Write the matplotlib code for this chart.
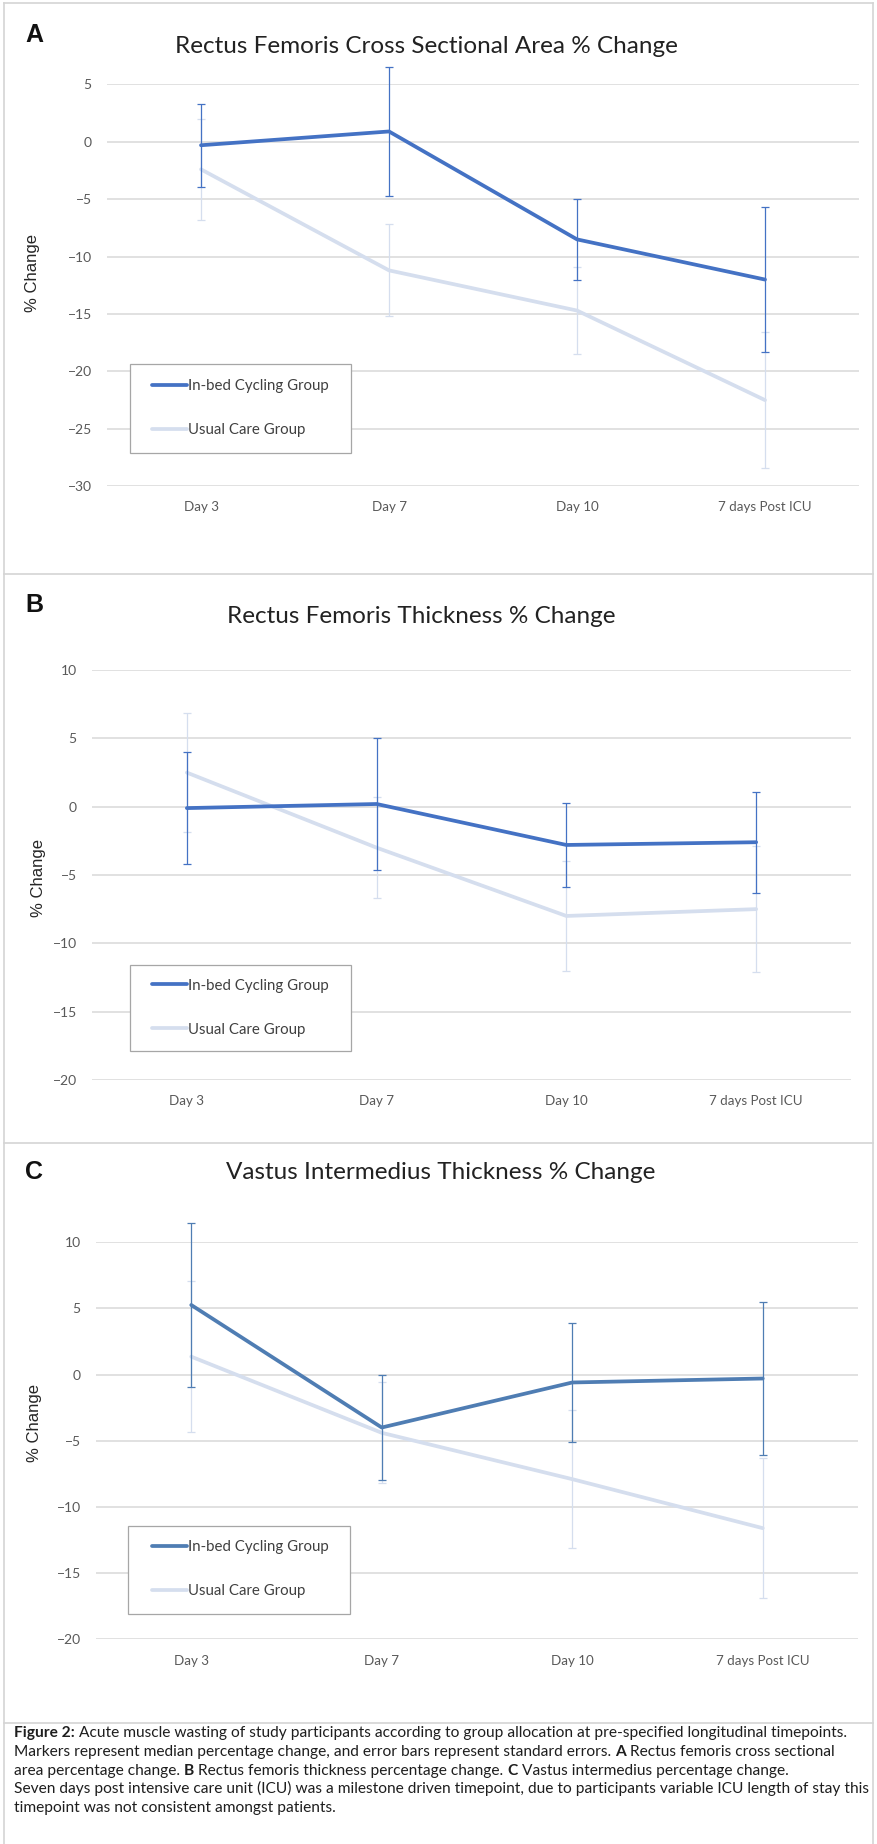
import matplotlib
matplotlib.use("Agg")
import matplotlib.pyplot as plt
from matplotlib.lines import Line2D
from matplotlib.patches import Rectangle
import numpy as np

W, H, DPI = 877, 1844, 100

timepoints = ["Day 3", "Day 7", "Day 10", "7 days Post ICU"]
group_names = ["In-bed Cycling Group", "Usual Care Group"]

# A: rectus femoris cross sectional area, median % change and standard error
rf_csa_cycling = [-0.3, 0.9, -8.5, -12.0]
rf_csa_cycling_se = [3.6, 5.6, 3.5, 6.3]
rf_csa_usual = [-2.4, -11.2, -14.7, -22.5]
rf_csa_usual_se = [4.4, 4.0, 3.8, 5.9]

# B: rectus femoris thickness
rf_thk_cycling = [-0.1, 0.2, -2.8, -2.6]
rf_thk_cycling_se = [4.1, 4.8, 3.1, 3.7]
rf_thk_usual = [2.5, -3.0, -8.0, -7.5]
rf_thk_usual_se = [4.35, 3.7, 4.0, 4.6]

# C: vastus intermedius thickness
vi_thk_cycling = [5.25, -4.0, -0.6, -0.3]
vi_thk_cycling_se = [6.2, 4.0, 4.5, 5.8]
vi_thk_usual = [1.35, -4.4, -7.9, -11.6]
vi_thk_usual_se = [5.7, 3.8, 5.2, 5.3]

panel_letters = ["A", "B", "C"]
panel_titles = [
    "Rectus Femoris Cross Sectional Area % Change",
    "Rectus Femoris Thickness % Change",
    "Vastus Intermedius Thickness % Change",
]

CAL = ["Lato", "DejaVu Sans"]
ARIAL = ["Liberation Sans", "DejaVu Sans"]
GRID = "#d9d9d9"
FRAME = "#d4d4d4"
LIGHT = "#d5deee"


def fx(x):
    return x / W


def fy(y):
    return 1 - y / H


fig = plt.figure(figsize=(W / DPI, H / DPI), dpi=DPI)
fig.patch.set_facecolor("white")

# outer frame and panel separators
for (x0, y0, x1, y1) in [(3.5, 3.5, 3.5, H), (872.5, 3.5, 872.5, H), (3.5, 3.5, 872.5, 3.5),
                         (3.5, 573.5, 872.5, 573.5), (3.5, 1142.5, 872.5, 1142.5),
                         (3.5, 1722.5, 872.5, 1722.5)]:
    fig.add_artist(Line2D([fx(x0), fx(x1)], [fy(y0), fy(y1)], color=FRAME, lw=1.2,
                          transform=fig.transFigure))

panels = [
    dict(data=(rf_csa_cycling, rf_csa_cycling_se, rf_csa_usual, rf_csa_usual_se),
         box=(107, 84.4, 859, 486.2), ylim=(-30, 5), dark="#4472c4",
         letter_xy=(34, 35), title_xy=(426, 46.5), ylab_xy=(32, 273),
         legend_box=(130, 364, 351, 453), legend_rows=(386, 430)),
    dict(data=(rf_thk_cycling, rf_thk_cycling_se, rf_thk_usual, rf_thk_usual_se),
         box=(92, 670.2, 851, 1079.8), ylim=(-20, 10), dark="#4472c4",
         letter_xy=(34, 605), title_xy=(421, 616), ylab_xy=(38, 878),
         legend_box=(130, 965, 351, 1051), legend_rows=(986.5, 1029)),
    dict(data=(vi_thk_cycling, vi_thk_cycling_se, vi_thk_usual, vi_thk_usual_se),
         box=(96, 1242.1, 858, 1639.4), ylim=(-20, 10), dark="#4f7db3",
         letter_xy=(34, 1172), title_xy=(441, 1172), ylab_xy=(34, 1423),
         legend_box=(128, 1525.5, 350, 1614), legend_rows=(1547, 1590.6)),
]

x = np.arange(len(timepoints))

for i, p in enumerate(panels):
    l, t, r, b = p["box"]
    ax = fig.add_axes([fx(l), fy(b), (r - l) / W, (b - t) / H])
    cyc, cyc_se, usu, usu_se = p["data"]

    handles = []
    for vals, se, col, z in [(usu, usu_se, LIGHT, 3), (cyc, cyc_se, p["dark"], 4)]:
        cont = ax.errorbar(x, vals, yerr=se, color=col, lw=2.7, elinewidth=0.9,
                           capsize=3, capthick=0.9, zorder=z)
        line, caps, bars = cont.lines
        line.set_solid_capstyle("round")
        for art in (line,) + tuple(caps) + tuple(bars):
            art.set_clip_on(False)
        handles.append(line)
    handles = handles[::-1]

    ax.set_xlim(-0.5, len(timepoints) - 0.5)
    ax.set_ylim(*p["ylim"])
    ax.set_yticks(np.arange(p["ylim"][0], p["ylim"][1] + 1, 5))
    ax.set_xticks(x)
    ax.set_xticklabels(timepoints)
    for s in ax.spines.values():
        s.set_visible(False)
    ax.yaxis.grid(True, color=GRID, lw=1.1)
    ax.set_axisbelow(True)
    ax.tick_params(length=0, labelsize=10, labelcolor="#595959")
    ax.tick_params(axis="x", pad=11, labelsize=9.6)
    ax.tick_params(axis="y", pad=11)
    for lab in ax.get_xticklabels() + ax.get_yticklabels():
        lab.set_family(CAL)

    # legend frame and entries
    lx0, ly0, lx1, ly1 = p["legend_box"]
    ax.add_patch(Rectangle((fx(lx0), fy(ly1)), (lx1 - lx0) / W, (ly1 - ly0) / H,
                           transform=fig.transFigure, facecolor="white",
                           edgecolor="#a6a6a6", lw=0.9, zorder=6, clip_on=False))
    leg = ax.legend(handles, group_names, loc="center left",
                    bbox_to_anchor=(fx(152), fy((p["legend_rows"][0] + p["legend_rows"][1]) / 2)),
                    bbox_transform=fig.transFigure, frameon=False, borderpad=0,
                    borderaxespad=0, handlelength=2.3, handletextpad=0.12,
                    labelspacing=2.0, prop={"family": CAL, "size": 10.8})
    leg.set_zorder(7)
    for txt in leg.get_texts():
        txt.set_color("#404040")

    fig.text(fx(p["letter_xy"][0]), fy(p["letter_xy"][1]), panel_letters[i],
             family=ARIAL, fontweight="bold", fontsize=18, ha="center", va="center",
             color="#111111")
    fig.text(fx(p["title_xy"][0]), fy(p["title_xy"][1]), panel_titles[i],
             family=CAL, fontsize=17.5, ha="center", va="center", color="#222222")
    fig.text(fx(p["ylab_xy"][0]), fy(p["ylab_xy"][1]), "% Change", family=ARIAL,
             fontsize=12, rotation=90, ha="center", va="center", color="#262626")

# figure caption, with bold run-in labels
caption_lines = [
    [("Figure 2:", True), ("Acute muscle wasting of study participants according to group allocation at pre-specified longitudinal timepoints.", False)],
    [("Markers represent median percentage change, and error bars represent standard errors.", False), ("A", True), ("Rectus femoris cross sectional", False)],
    [("area percentage change.", False), ("B", True), ("Rectus femoris thickness percentage change.", False), ("C", True), ("Vastus intermedius percentage change.", False)],
    [("Seven days post intensive care unit (ICU) was a milestone driven timepoint, due to participants variable ICU length of stay this", False)],
    [("timepoint was not consistent amongst patients.", False)],
]

renderer = fig.canvas.get_renderer()


def text_width(s, size, bold=False):
    t = fig.text(0, 0, s, family=CAL, fontsize=size, fontweight="bold" if bold else "normal")
    w = t.get_window_extent(renderer).width
    t.remove()
    return w


base = 10
widest = text_width(caption_lines[3][0][0], base)
cap_size = base * 853 / widest
space_w = text_width("x x", cap_size) - text_width("xx", cap_size)

baselines = [1737, 1756, 1774.5, 1793, 1811.5]
for runs, yb in zip(caption_lines, baselines):
    xpos = 14
    for s, bold in runs:
        t = fig.text(fx(xpos), fy(yb), s, family=CAL, fontsize=cap_size,
                     fontweight="bold" if bold else "normal", ha="left",
                     va="baseline", color="#1e1e1e")
        xpos += t.get_window_extent(renderer).width + space_w

fig.savefig("out.png", dpi=DPI, facecolor="white")
